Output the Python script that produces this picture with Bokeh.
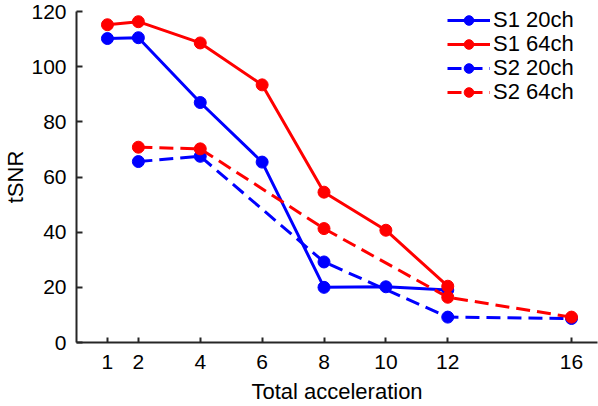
from bokeh.plotting import figure
from bokeh.models import Range1d, FixedTicker, Legend, LegendItem
from bokeh.embed import file_html
from bokeh.resources import INLINE

# Data
x_s1 = [1, 2, 4, 6, 8, 10, 12]
s1_20ch = [110.2, 110.5, 87.0, 65.4, 20.0, 20.2, 19.0]
s1_64ch = [115.2, 116.3, 108.6, 93.4, 54.5, 40.7, 20.4]
x_s2 = [2, 4, 8, 12, 16]
s2_20ch = [65.6, 67.5, 29.2, 9.2, 8.7]
s2_64ch = [70.8, 70.2, 41.3, 16.4, 9.2]
x_ticks = [1, 2, 4, 6, 8, 10, 12, 16]
y_ticks = [0, 20, 40, 60, 80, 100, 120]

FONT = "Liberation Sans"
BLUE = "#0000ff"
RED = "#ff0000"

p = figure(width=598, height=406, output_backend="svg", toolbar_location=None,
           x_range=Range1d(0, 16.84), y_range=Range1d(0, 120),
           min_border_left=74, min_border_right=1, min_border_top=11, min_border_bottom=63)
p.outline_line_color = None
p.xgrid.visible = False
p.ygrid.visible = False
p.background_fill_color = "white"
p.border_fill_color = "white"

series = [
    (x_s1, s1_20ch, BLUE, "solid", "S1 20ch"),
    (x_s1, s1_64ch, RED, "solid", "S1 64ch"),
    (x_s2, s2_20ch, BLUE, "14 7", "S2 20ch"),
    (x_s2, s2_64ch, RED, "14 7", "S2 64ch"),
]
# one single-row legend per series, stacked with a 24px pitch
legend_rows_y = [309, 285, 261, 237]
for (xs, ys, col, dash, lab), ly in zip(series, legend_rows_y):
    l = p.line(xs, ys, line_color=col, line_width=3, line_dash=dash)
    s = p.scatter(xs, ys, marker="circle", size=12, fill_color=col, line_color=col)
    leg = Legend(items=[LegendItem(label=lab, renderers=[l, s])], location=(371, ly),
                 padding=0, spacing=0, margin=0,
                 glyph_width=43, glyph_height=24, label_height=24, label_standoff=3,
                 label_text_font=FONT, label_text_font_size="22px", label_text_color="black",
                 border_line_color=None, background_fill_alpha=0)
    p.add_layout(leg, "center")

for ax in (p.xaxis[0], p.yaxis[0]):
    ax.axis_line_color = "#262626"
    ax.axis_line_width = 2
    ax.major_tick_line_color = "#262626"
    ax.major_tick_line_width = 2
    ax.major_tick_out = 0
    ax.minor_tick_line_color = None
    ax.major_label_text_font = FONT
    ax.major_label_text_font_size = "21px"
    ax.major_label_text_color = "black"
    ax.major_label_text_line_height = 1.0
    ax.axis_label_text_font = FONT
    ax.axis_label_text_font_size = "22px"
    ax.axis_label_text_font_style = "normal"
    ax.axis_label_text_color = "black"
    ax.axis_label_text_line_height = 1.0

p.xaxis[0].ticker = FixedTicker(ticks=x_ticks)
p.xaxis[0].major_tick_in = 5
p.xaxis[0].major_label_standoff = 12
p.xaxis[0].axis_label = "Total acceleration"
p.xaxis[0].axis_label_standoff = 7

p.yaxis[0].ticker = FixedTicker(ticks=y_ticks)
p.yaxis[0].major_tick_in = 6
p.yaxis[0].major_label_standoff = 10
p.yaxis[0].axis_label = "tSNR"
p.yaxis[0].axis_label_standoff = 0

open("out.html", "w").write(file_html(p, INLINE))
